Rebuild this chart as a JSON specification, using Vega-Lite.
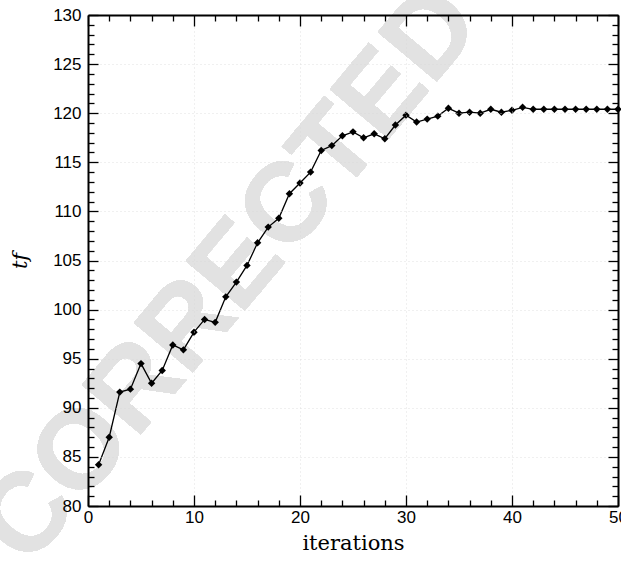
{
  "$schema": "https://vega.github.io/schema/vega-lite/v6.json",
  "width": 530,
  "height": 491,
  "autosize": {"type": "none"},
  "padding": {"left": 88, "top": 15, "right": 3, "bottom": 56},
  "background": "white",
  "config": {
    "view": {"stroke": null},
    "axis": {
      "domainColor": "black",
      "domainWidth": 2,
      "tickColor": "black",
      "tickWidth": 1.3,
      "labelFont": "Liberation Sans",
      "labelFontSize": 17,
      "labelColor": "black",
      "titleColor": "black",
      "titleFont": "DejaVu Serif",
      "titleFontWeight": "normal",
      "titleFontSize": 21
    }
  },
  "data": {
    "values": [
      {"iteration": 1, "tf": 84.2},
      {"iteration": 2, "tf": 87.0},
      {"iteration": 3, "tf": 91.6},
      {"iteration": 4, "tf": 91.9},
      {"iteration": 5, "tf": 94.5},
      {"iteration": 6, "tf": 92.5},
      {"iteration": 7, "tf": 93.8},
      {"iteration": 8, "tf": 96.4},
      {"iteration": 9, "tf": 95.9},
      {"iteration": 10, "tf": 97.7},
      {"iteration": 11, "tf": 99.0},
      {"iteration": 12, "tf": 98.7},
      {"iteration": 13, "tf": 101.3},
      {"iteration": 14, "tf": 102.8},
      {"iteration": 15, "tf": 104.5},
      {"iteration": 16, "tf": 106.8},
      {"iteration": 17, "tf": 108.4},
      {"iteration": 18, "tf": 109.3},
      {"iteration": 19, "tf": 111.8},
      {"iteration": 20, "tf": 112.9},
      {"iteration": 21, "tf": 114.0},
      {"iteration": 22, "tf": 116.2},
      {"iteration": 23, "tf": 116.7},
      {"iteration": 24, "tf": 117.7},
      {"iteration": 25, "tf": 118.1},
      {"iteration": 26, "tf": 117.5},
      {"iteration": 27, "tf": 117.9},
      {"iteration": 28, "tf": 117.4},
      {"iteration": 29, "tf": 118.8},
      {"iteration": 30, "tf": 119.8},
      {"iteration": 31, "tf": 119.1},
      {"iteration": 32, "tf": 119.4},
      {"iteration": 33, "tf": 119.7},
      {"iteration": 34, "tf": 120.5},
      {"iteration": 35, "tf": 120.0},
      {"iteration": 36, "tf": 120.1},
      {"iteration": 37, "tf": 120.0},
      {"iteration": 38, "tf": 120.4},
      {"iteration": 39, "tf": 120.1},
      {"iteration": 40, "tf": 120.3},
      {"iteration": 41, "tf": 120.6},
      {"iteration": 42, "tf": 120.4},
      {"iteration": 43, "tf": 120.4},
      {"iteration": 44, "tf": 120.4},
      {"iteration": 45, "tf": 120.4},
      {"iteration": 46, "tf": 120.4},
      {"iteration": 47, "tf": 120.4},
      {"iteration": 48, "tf": 120.4},
      {"iteration": 49, "tf": 120.4},
      {"iteration": 50, "tf": 120.4}
    ]
  },
  "layer": [
    {
      "mark": {
        "type": "text",
        "text": "CORRECTED",
        "font": "Liberation Sans",
        "fontWeight": "bold",
        "fontSize": 112,
        "angle": 310,
        "color": "#e2e2e2",
        "align": "center",
        "baseline": "middle"
      },
      "encoding": {
        "x": {"datum": 13.4, "type": "quantitative", "scale": {"domain": [0, 50], "nice": false}, "axis": null},
        "y": {"datum": 103.5, "type": "quantitative", "scale": {"domain": [80, 130], "nice": false}, "axis": null}
      }
    },
    {
      "mark": {"type": "line", "color": "black", "strokeWidth": 1.3},
      "encoding": {
        "x": {
          "field": "iteration",
          "type": "quantitative",
          "scale": {"domain": [0, 50], "nice": false},
          "axis": {
            "orient": "bottom",
            "zindex": 1,
            "title": "iterations",
            "titlePadding": 2,
            "values": [0,2,4,6,8,10,12,14,16,18,20,22,24,26,28,30,32,34,36,38,40,42,44,46,48,50],
            "labelExpr": "datum.value % 10 === 0 ? datum.label : ''",
            "tickSize": {"condition": {"test": "datum.value % 10 === 0", "value": -11}, "value": -6},
            "labelPadding": 14,
            "labelFlush": false,
            "labelOverlap": false,
            "grid": true,
            "gridColor": "#d8d8d8",
            "gridDash": [1, 3],
            "gridWidth": 0.8,
            "gridOpacity": {"condition": {"test": "datum.value % 10 === 0 && datum.value > 0 && datum.value < 50", "value": 1}, "value": 0}
          }
        },
        "y": {
          "field": "tf",
          "type": "quantitative",
          "scale": {"domain": [80, 130], "nice": false, "zero": false},
          "axis": {
            "orient": "left",
            "zindex": 1,
            "title": "tf",
            "titleFontStyle": "italic",
            "titlePadding": 22,
            "values": [80,81,82,83,84,85,86,87,88,89,90,91,92,93,94,95,96,97,98,99,100,101,102,103,104,105,106,107,108,109,110,111,112,113,114,115,116,117,118,119,120,121,122,123,124,125,126,127,128,129,130],
            "labelExpr": "datum.value % 5 === 0 ? datum.label : ''",
            "tickSize": {"condition": {"test": "datum.value % 5 === 0", "value": -10}, "value": -6},
            "labelPadding": 17,
            "labelFlush": false,
            "labelOverlap": false,
            "grid": true,
            "gridColor": "#d8d8d8",
            "gridDash": [1, 3],
            "gridWidth": 0.8,
            "gridOpacity": {"condition": {"test": "datum.value % 5 === 0 && datum.value > 80 && datum.value < 130", "value": 1}, "value": 0}
          }
        }
      }
    },
    {
      "mark": {"type": "point", "shape": "diamond", "filled": true, "color": "black", "size": 55, "opacity": 1},
      "encoding": {
        "x": {
          "field": "iteration",
          "type": "quantitative",
          "axis": {
            "orient": "top",
            "zindex": 1,
            "title": null,
            "labels": false,
            "values": [0,2,4,6,8,10,12,14,16,18,20,22,24,26,28,30,32,34,36,38,40,42,44,46,48,50],
            "tickSize": {"condition": {"test": "datum.value % 10 === 0", "value": -11}, "value": -6},
            "grid": false
          }
        },
        "y": {
          "field": "tf",
          "type": "quantitative",
          "axis": {
            "orient": "right",
            "zindex": 1,
            "title": null,
            "labels": false,
            "values": [80,81,82,83,84,85,86,87,88,89,90,91,92,93,94,95,96,97,98,99,100,101,102,103,104,105,106,107,108,109,110,111,112,113,114,115,116,117,118,119,120,121,122,123,124,125,126,127,128,129,130],
            "tickSize": {"condition": {"test": "datum.value % 5 === 0", "value": -10}, "value": -6},
            "grid": false
          }
        }
      }
    }
  ],
  "resolve": {"axis": {"x": "independent", "y": "independent"}}
}
